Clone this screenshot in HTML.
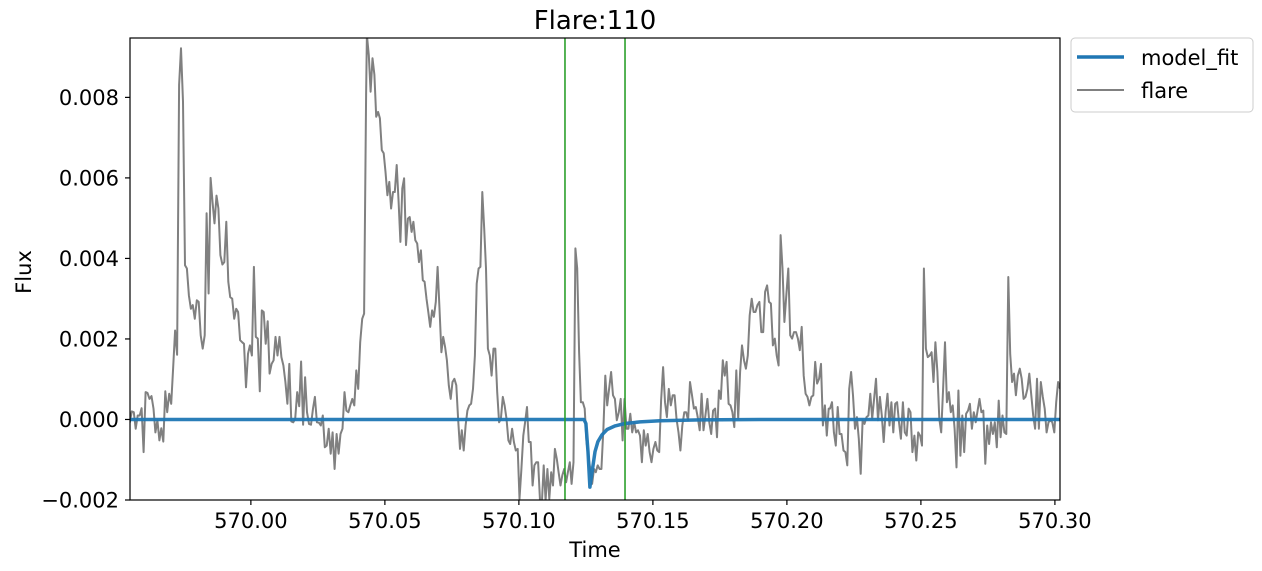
<!DOCTYPE html>
<html><head><meta charset="utf-8"><style>
html,body{margin:0;padding:0;background:#fff;}
svg{display:block;font-family:"DejaVu Sans","Liberation Sans",sans-serif;}
</style></head><body>
<svg id="chart" width="1262" height="571" viewBox="0 0 1262 571" xmlns="http://www.w3.org/2000/svg">
<defs><clipPath id="pc"><rect x="130" y="38" width="930" height="462"/></clipPath></defs>
<rect x="0" y="0" width="1262" height="571" fill="#fff"/>
<text x="595" y="29" font-size="26" text-anchor="middle" fill="#000">Flare:110</text>
<text x="595" y="557" font-size="21" text-anchor="middle" fill="#000">Time</text>
<text x="31" y="272" font-size="21" text-anchor="middle" fill="#000" transform="rotate(-90 31 272)">Flux</text>
<g id="ticks"></g>
<g id="marks" clip-path="url(#pc)"></g>
<rect x="130" y="38" width="930" height="462" fill="none" stroke="#000" stroke-width="1.2"/>
<g>
<rect x="1071" y="38" width="182" height="74" rx="4" fill="#fff" stroke="#ccc" stroke-width="1"/>
<line x1="1077" y1="57" x2="1124" y2="57" stroke="#1f77b4" stroke-width="3.5"/>
<text x="1141" y="65" font-size="21" fill="#000">model_fit</text>
<line x1="1077" y1="90" x2="1124" y2="90" stroke="#808080" stroke-width="2"/>
<text x="1141" y="98" font-size="21" fill="#000">flare</text>
</g>
</svg>
<script>
const xTicks = [570.00, 570.05, 570.10, 570.15, 570.20, 570.25, 570.30];
const xTickLabels = ["570.00","570.05","570.10","570.15","570.20","570.25","570.30"];
const yTicks = [-2, 0, 2, 4, 6, 8];
const yTickLabels = ["\u22120.002","0.000","0.002","0.004","0.006","0.008"];
const segmentStart = [569.9541, 570.0433, 570.1308, 570.2161];
const segmentEnd = [570.0430, 570.1301, 570.2156, 570.3019];
// flux in units of 1e-3
const fluxA = [-0.19,-0.07,0.20,0.18,-0.23,0.10,0.10,0.28,-0.81,0.68,0.66,0.51,0.58,0.27,-0.32,-0.02,-0.52,-0.22,-0.55,0.70,0.18,0.64,0.39,1.26,2.21,1.61,8.31,9.22,7.89,3.83,3.75,3.08,2.75,2.84,2.50,2.96,2.92,2.09,1.76,2.09,5.12,3.13,6.00,5.41,4.87,5.56,5.24,4.08,3.85,3.91,4.91,3.42,3.04,3.00,2.50,2.75,2.67,1.97,1.92,1.88,0.80,1.63,1.84,1.59,3.79,2.05,2.01,0.70,2.71,2.67,1.88,2.44,1.14,1.38,1.47,2.05,1.59,2.05,1.55,1.34,0.93,0.39,1.38,-0.05,-0.07,0.02,0.68,0.33,1.44,-0.13,1.05,0.18,-0.11,-0.13,0.27,0.56,-0.07,-0.08,-0.15,0.10,-0.69,-0.65,-0.23,-0.85,-0.32,-1.23,-0.36,-0.85,-0.36,-0.23,0.68,0.22,0.18,0.36,0.51,0.35,1.22,0.76,1.92,2.50,2.63,8.06];
const fluxB = [9.55,9.05,8.14,8.97,8.56,7.52,7.64,7.48,6.69,6.61,6.15,5.57,5.90,5.24,5.65,5.65,6.32,5.41,4.41,5.74,5.99,4.33,4.99,5.03,4.66,4.91,4.45,4.37,3.91,4.20,3.46,3.42,3.00,2.67,2.30,2.71,2.55,2.92,3.79,2.75,1.67,2.05,1.80,1.47,0.85,0.51,0.93,1.01,0.85,0.02,-0.73,-0.27,-0.77,-0.15,0.22,0.35,0.39,0.76,1.59,3.37,3.75,3.79,5.65,4.74,3.75,1.76,1.59,1.09,1.76,1.76,0.68,-0.07,0.02,0.56,0.35,0.02,-0.52,-0.61,-0.23,-0.56,-0.77,-0.73,-1.97,-1.23,-0.40,-0.07,0.31,-0.56,-0.56,-1.64,-1.14,-1.06,-1.06,-2.01,-2.06,-1.14,-2.01,-1.23,-1.97,-1.31,-1.64,-0.73,-0.98,-1.31,-1.64,-1.39,-1.23,-1.56,-1.31,-1.06,-1.60,-1.06,4.25,3.75,1.67,0.43,0.43,0.27,-0.56,-0.90,-1.23,-1.60,-1.23,-1.31,-1.14,-1.23];
const fluxC = [-1.23,-0.23,1.09,0.35,0.76,1.18,0.60,0.51,-0.02,0.18,0.51,-0.52,0.51,-0.23,-0.23,0.14,-0.32,-0.07,-0.32,-0.27,-0.40,-1.06,-0.27,-0.65,-0.36,-0.81,-1.06,-0.73,-0.56,-0.77,-0.81,0.47,1.30,0.43,0.06,0.76,0.35,0.60,0.60,0.02,-0.32,-0.77,-0.15,0.18,0.18,-0.02,0.93,0.60,0.27,0.31,0.06,-0.27,0.64,-0.27,0.10,0.51,-0.07,-0.36,0.22,0.27,-0.44,0.72,0.51,1.47,1.09,1.43,0.39,0.35,0.18,-0.19,1.22,0.02,1.18,1.84,1.47,1.26,1.59,2.59,3.00,2.67,2.67,2.84,2.92,2.17,2.17,3.17,3.33,2.92,2.88,1.84,2.01,1.59,1.34,4.58,3.75,2.42,3.08,3.75,2.09,2.01,2.17,2.17,2.01,1.72,2.30,1.09,0.64,0.56,0.35,0.56,0.60,1.43,0.89,1.01,1.38,-0.15,0.35,-0.40,0.27];
const fluxD = [0.27,0.43,-0.32,-0.65,0.31,-0.36,-0.36,-0.77,-0.81,-1.14,0.76,1.18,0.60,-0.23,0.06,-0.48,-1.35,-0.02,-0.11,0.06,0.10,0.64,0.02,0.51,1.01,-0.02,0.56,0.10,-0.56,0.18,0.64,-0.15,0.43,-0.32,0.39,0.43,-0.07,-0.48,0.43,-0.32,-0.40,0.27,0.18,-0.81,-0.40,-1.02,-0.32,-0.40,-0.65,3.75,1.76,1.55,1.59,1.67,0.93,1.92,1.18,0.02,-0.32,0.76,1.92,0.43,0.68,0.18,0.35,-0.23,-1.19,0.72,-0.90,0.10,-0.81,0.14,0.22,0.39,-0.23,0.18,-0.07,0.22,0.51,0.18,0.22,-1.10,-0.15,-0.61,-0.07,-0.36,-0.07,-0.69,0.47,-0.44,0.10,-0.32,-0.36,3.54,1.63,0.93,1.14,0.60,1.09,1.26,1.01,0.51,0.56,0.76,1.14,0.60,0.10,-0.23,1.01,-0.23,0.93,0.56,0.27,-0.32,-0.07,-0.02,-0.07,-0.32,0.43,0.93,0.76];
const modelTime = [569.9549,570.1243,570.1250,570.1258,570.1265,570.1273,570.1284,570.1295,570.1310,570.1329,570.1359,570.1396,570.1452,570.1527,570.1676,570.1900,570.3019];
const modelFlux = [0,0,-0.1,-0.8,-1.68,-1.3,-0.8,-0.55,-0.38,-0.25,-0.16,-0.1,-0.06,-0.03,-0.01,0,0];
const markerTimes = [570.1172, 570.1396];

const X0=130, X1=1060, Y0=500, Y1=38;
const T_MIN=569.9549, T_MAX=570.3019, F_MIN=-2, F_MAX=9.475;
const NS="http://www.w3.org/2000/svg";
function xs(t){return X0+(t-T_MIN)/(T_MAX-T_MIN)*(X1-X0);}
function ys(f){return Y0-(f-F_MIN)/(F_MAX-F_MIN)*(Y0-Y1);}
function mk(tag,attrs,parent){const e=document.createElementNS(NS,tag);for(const k in attrs)e.setAttribute(k,attrs[k]);parent.appendChild(e);return e;}
const ticks=document.getElementById('ticks'), marks=document.getElementById('marks');

xTicks.forEach((t,i)=>{
  const x=xs(t);
  const l=mk('line',{x1:x,y1:500,x2:x,y2:505,stroke:'#000','stroke-width':1.2},ticks);
  
  
  const tx=mk('text',{x:x,y:528,'font-size':21,'text-anchor':'middle',fill:'#000'},ticks);
  
  
  tx.textContent=xTickLabels[i];
});
yTicks.forEach((f,i)=>{
  const y=ys(f);
  const l=mk('line',{x1:125,y1:y,x2:130,y2:y,stroke:'#000','stroke-width':1.2},ticks);
  
  
  const tx=mk('text',{x:119,y:y+7.5,'font-size':21,'text-anchor':'end',fill:'#000'},ticks);
  
  
  tx.textContent=yTickLabels[i];
});

const segs=[fluxA,fluxB,fluxC,fluxD];
let pts=[];
segs.forEach((arr,s)=>{
  const n=arr.length;
  arr.forEach((f,i)=>{
    const t=segmentStart[s]+(segmentEnd[s]-segmentStart[s])*(n>1?i/(n-1):0);
    pts.push(xs(t).toFixed(1)+','+ys(f).toFixed(1));
  });
});
const flare=mk('polyline',{points:pts.join(' '),fill:'none',stroke:'#808080','stroke-width':2,'stroke-linejoin':'round'},marks);



const mp=modelTime.map((t,i)=>xs(t).toFixed(1)+','+ys(modelFlux[i]).toFixed(1));
const model=mk('polyline',{points:mp.join(' '),fill:'none',stroke:'#1f77b4','stroke-width':3.5,'stroke-linejoin':'round',opacity:0.95},marks);



markerTimes.forEach((t)=>{
  const x=xs(t);
  const l=mk('line',{x1:x,y1:38,x2:x,y2:500,stroke:'#2ca02c','stroke-width':1.6},marks);
  
  
});
</script>
</body></html>
